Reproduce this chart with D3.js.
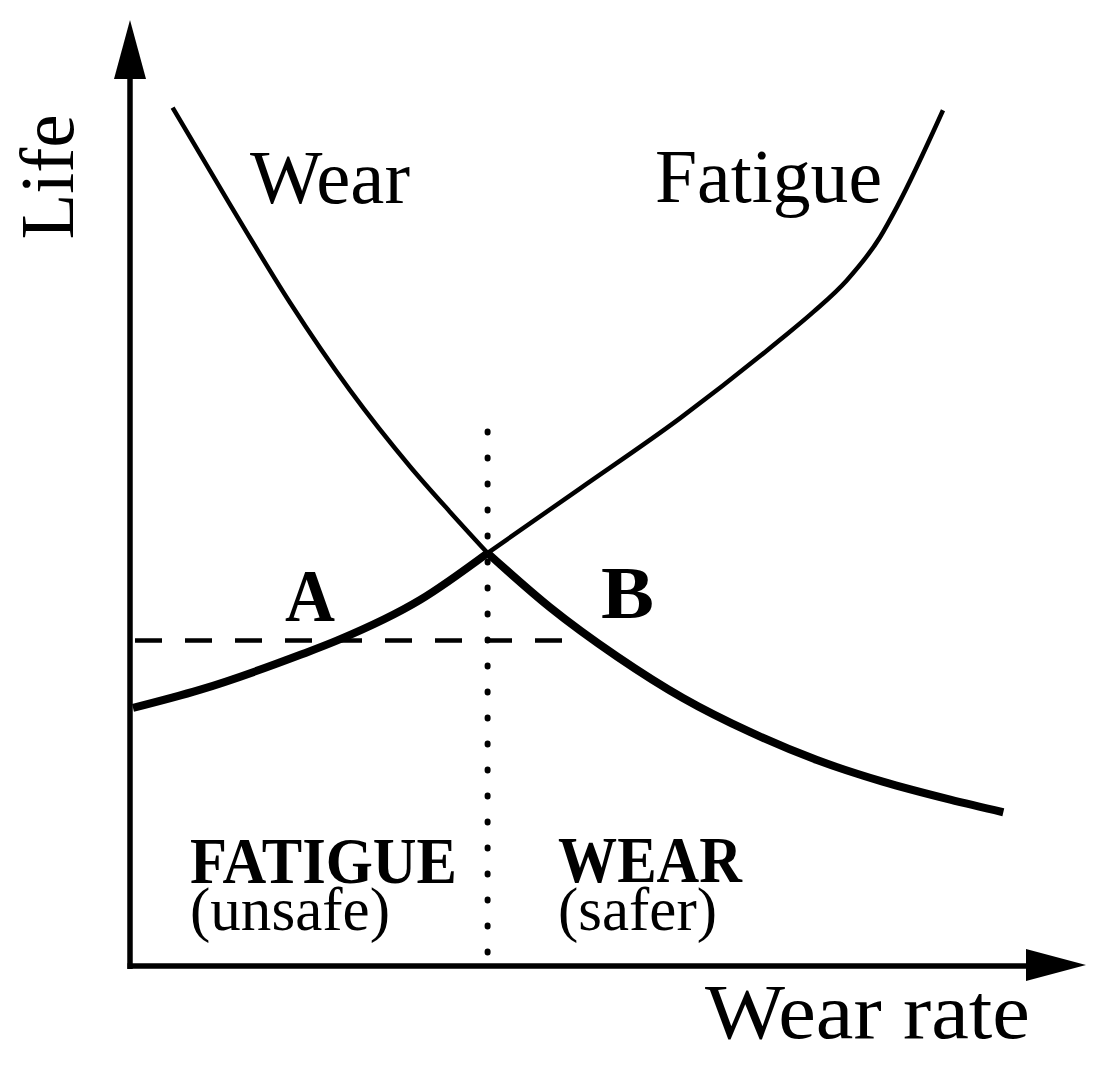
<!DOCTYPE html>
<html><head><meta charset="utf-8">
<script src="https://cdn.jsdelivr.net/npm/d3@7"></script>
<style>html,body{margin:0;padding:0;background:#fff;} svg{display:block;}</style>
</head><body>
<script>
// ---- data (arbitrary units: wear rate 0..10, life 0..10) ----
const wearCurveThin = [[0.44,9.56],[1.08,8.48],[1.74,7.40],[2.41,6.42],[3.08,5.57],[3.52,5.07],[3.94,4.61]];
const wearCurveThick = [[3.94,4.61],[4.63,4.01],[5.38,3.46],[6.11,3.00],[6.86,2.62],[7.60,2.31],[8.33,2.07],[9.08,1.87],[9.67,1.73]];
const fatigueCurveThick = [[0.0,2.89],[0.74,3.09],[1.86,3.48],[2.27,3.64],[3.19,4.09],[3.94,4.61]];
const fatigueCurveThin = [[3.94,4.61],[4.97,5.33],[6.08,6.11],[7.19,6.98],[7.56,7.29],[7.93,7.64],[8.30,8.12],[8.49,8.46],[9.0,9.53]];
const designLife = 3.64;        // dashed horizontal
const dashedEndX = 4.78;
const transitionX = 3.94;       // dotted vertical
const dottedRange = [0.14, 5.96];
const labels = ["Wear","Fatigue","A","B","FATIGUE","(unsafe)","WEAR","(safer)"];
const axisLabels = {x:"Wear rate", y:"Life"};

const W = 1105, H = 1067;
const svg = d3.select("body").append("svg").attr("width",W).attr("height",H);
const x = d3.scaleLinear().domain([0,10]).range([133,1033]);
const y = d3.scaleLinear().domain([0,10]).range([968,68]);
const font = "'Liberation Serif','Times New Roman',serif";

const line = d3.line().x(d=>x(d[0])).y(d=>y(d[1])).curve(d3.curveMonotoneX);

// axes
const ax0 = 130, ay0 = 966;
svg.append("line").attr("x1",ax0).attr("y1",ay0+3).attr("x2",ax0).attr("y2",70)
  .attr("stroke","#000").attr("stroke-width",5.5);
svg.append("path").attr("d",`M${ax0},20 L${ax0-16},79 L${ax0+16},79 Z`).attr("fill","#000");
svg.append("line").attr("x1",ax0-2.5).attr("y1",ay0).attr("x2",1030).attr("y2",ay0)
  .attr("stroke","#000").attr("stroke-width",5.5);
svg.append("path").attr("d",`M1086,${ay0-1} L1026,${ay0-17} L1026,${ay0+15} Z`).attr("fill","#000");

// dashed & dotted guides
svg.append("line").attr("x1",x(0)+2).attr("x2",x(dashedEndX)).attr("y1",y(designLife)).attr("y2",y(designLife))
  .attr("stroke","#000").attr("stroke-width",4.5).attr("stroke-dasharray","27,23");
svg.append("line").attr("x1",x(transitionX)).attr("x2",x(transitionX)).attr("y1",y(dottedRange[1])).attr("y2",y(dottedRange[0]))
  .attr("stroke","#000").attr("stroke-width",6).attr("stroke-linecap","round").attr("stroke-dasharray","1,25");

// curves
svg.append("path").attr("d",line(wearCurveThin)).attr("fill","none").attr("stroke","#000").attr("stroke-width",4.5);
svg.append("path").attr("d",line(fatigueCurveThin)).attr("fill","none").attr("stroke","#000").attr("stroke-width",4.5);
svg.append("path").attr("d",line(wearCurveThick)).attr("fill","none").attr("stroke","#000").attr("stroke-width",8);
svg.append("path").attr("d",line(fatigueCurveThick)).attr("fill","none").attr("stroke","#000").attr("stroke-width",8);

// labels
function txt(s, px, py, size, len, weight){
  svg.append("text").attr("x",px).attr("y",py).attr("font-family",font).attr("font-size",size)
    .attr("font-weight",weight||"normal").attr("textLength",len).attr("lengthAdjust","spacingAndGlyphs")
    .attr("fill","#000").text(s);
}
txt(labels[0],250,203,76,160);
txt(labels[1],655,202,76,227);
txt(labels[2],285,621,74,50,"bold");
txt(labels[3],601,618,74,53,"bold");
txt(labels[4],190,883,66,267,"bold");
txt(labels[5],190,930,62,200);
txt(labels[6],558,882,66,184,"bold");
txt(labels[7],558,930,62,159);
txt(axisLabels.x,705,1038,78,325);
svg.append("text").attr("transform","translate(73,177) rotate(-90)").attr("text-anchor","middle")
  .attr("font-family",font).attr("font-size",76).attr("textLength",125).attr("lengthAdjust","spacingAndGlyphs")
  .text(axisLabels.y);
</script>
</body></html>
